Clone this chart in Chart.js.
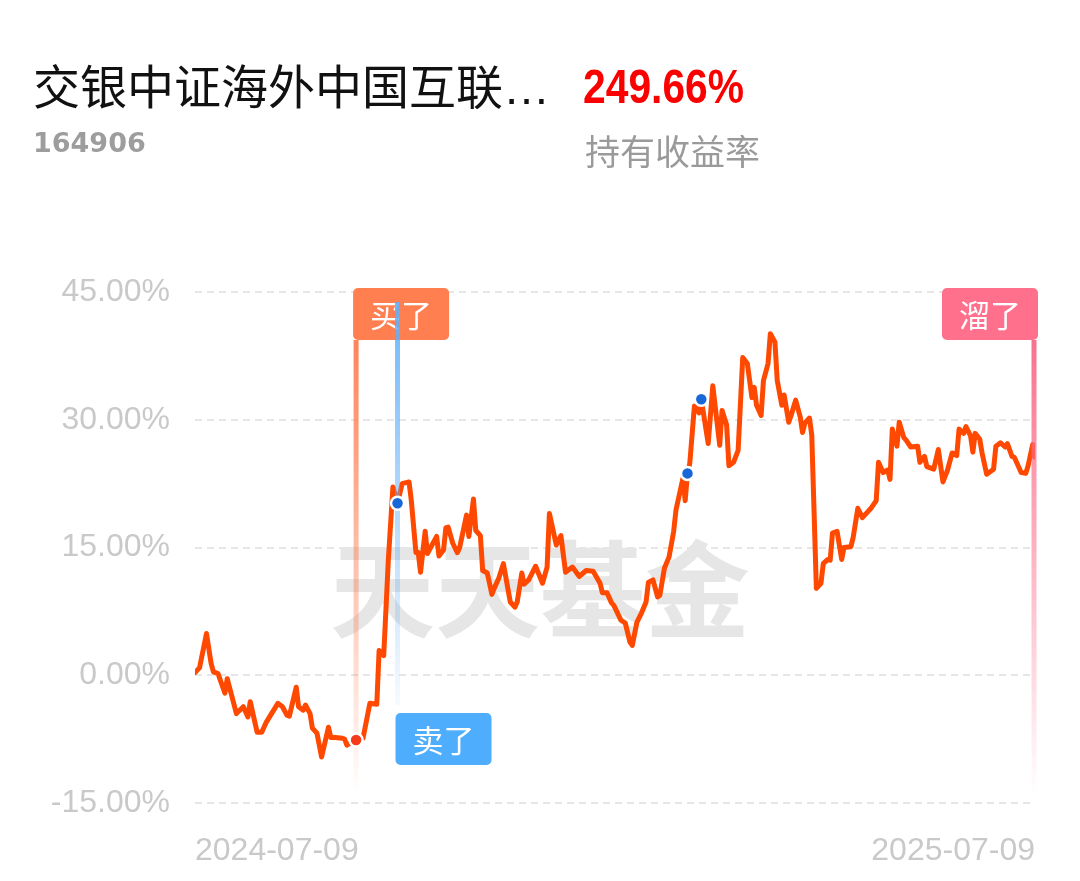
<!DOCTYPE html>
<html lang="zh-CN">
<head>
<meta charset="utf-8">
<title>164906 持有收益率</title>
<script src="https://cdn.jsdelivr.net/npm/chart.js@4.4.1/dist/chart.umd.min.js"></script>
<style>
  html, body { margin: 0; padding: 0; background: #fff; }
  #wrap { position: relative; width: 1080px; height: 881px; overflow: hidden; }
  #wrap canvas { position: absolute; left: 0; top: 0; }
  .txt { position: absolute; white-space: nowrap; line-height: 1; }
  #name { left: 33px; top: 49px; font: 47px "Noto Sans CJK SC", sans-serif; color: #111; }
  #name .dots { font-family: "Liberation Sans", Arial, sans-serif; }
  #code { left: 33px; top: 127px; font: bold 27px "DejaVu Sans", sans-serif; color: #9d9d9d; }
  #rate { left: 583px; top: 59px; font: bold 48px "Liberation Sans", sans-serif; color: #fa0000;
          transform: scaleX(0.85); transform-origin: 0 0; }
  #rateLabel { left: 585px; top: 124px; font: 35px "Noto Sans CJK SC", sans-serif; color: #9a9a9a; }
</style>
</head>
<body>
<div id="wrap">
  <canvas id="chart" width="1080" height="881"></canvas>
  <div class="txt" id="name">交银中证海外中国互联<span class="dots">…</span></div>
  <div class="txt" id="code">164906</div>
  <div class="txt" id="rate">249.66%</div>
  <div class="txt" id="rateLabel">持有收益率</div>
</div>
<script>
// days since 2024-07-09, and holding return in %
const days = [0, 2, 5, 7, 8, 10, 13, 14, 18, 21, 23, 24, 27, 29, 31, 36, 38, 40, 41, 44,
  45, 47, 48, 50, 51, 53, 55, 58, 59, 61, 64, 65, 66, 70, 73, 76, 79, 80, 82, 84,
  86, 88, 90, 93, 94, 96, 97, 98, 100, 101, 105, 106, 108, 109, 110, 112, 114, 115, 118, 119,
  121, 122, 124, 125, 127, 129, 130, 132, 134, 137, 139, 140, 142, 143, 145, 148, 151, 153, 154, 157,
  159, 161, 164, 167, 170, 173, 176, 177, 179, 181, 182, 185, 187, 189, 190, 192, 194, 196, 197, 199,
  201, 202, 204, 206, 208, 209, 212, 213, 214, 215, 217, 219, 220, 223, 225, 228, 229, 231, 232, 234,
  236, 238, 240, 242, 243, 244, 246, 247, 249, 250, 252, 253, 255, 256, 258, 259, 261, 263, 264, 265,
  267, 268, 270, 272, 273, 275, 276, 277, 279, 281, 282, 285, 286, 288, 290, 292, 294, 296, 297, 299,
  301, 302, 303, 305, 306, 308, 309, 311, 314, 315, 317, 318, 321, 323, 325, 327, 329, 331, 332, 334,
  335, 337, 338, 339, 341, 342, 344, 347, 348, 350, 352, 353, 355, 356, 359, 361, 362, 364, 365];

const returns = [0.3, 0.9, 4.9, 1.4, 0.4, 0.2, -2.1, -0.4, -4.5, -3.7, -4.9, -3.1, -6.7, -6.7, -5.5, -3.3, -3.7, -4.7, -4.8, -1.4,
  -3.7, -4.1, -3.5, -4.5, -6.2, -6.8, -9.6, -6.1, -7.3, -7.3, -7.4, -7.5, -8.2, -7.6, -7.4, -3.3, -3.4, 2.9, 2.3, 13.5,
  22.1, 20.2, 22.5, 22.7, 20.5, 14.4, 14.4, 12.1, 16.9, 14.3, 16.3, 14.0, 14.7, 17.3, 17.4, 15.5, 14.4, 15.0, 18.8, 16.3,
  20.7, 17.0, 16.4, 12.3, 12.0, 9.5, 10.2, 11.4, 13.1, 8.6, 8.0, 8.6, 12.0, 10.7, 11.2, 12.8, 10.8, 12.7, 19.0, 15.3,
  16.4, 12.1, 12.7, 11.6, 12.3, 12.2, 10.8, 9.7, 9.7, 8.5, 8.2, 6.5, 6.1, 3.9, 3.5, 6.2, 7.3, 8.6, 10.9, 11.2,
  9.2, 9.4, 12.6, 13.9, 16.9, 19.4, 23.1, 20.5, 23.7, 24.9, 31.6, 30.8, 32.4, 27.2, 34.0, 27.0, 31.1, 29.4, 24.6, 25.0,
  26.4, 37.3, 36.6, 32.6, 33.8, 31.7, 30.5, 34.6, 36.6, 40.1, 39.1, 34.6, 31.7, 32.9, 29.7, 30.5, 32.3, 30.3, 28.5, 29.6,
  30.2, 28.2, 10.2, 10.8, 13.1, 13.6, 13.5, 16.7, 16.9, 13.6, 15.0, 15.1, 16.2, 19.6, 18.5, 19.1, 19.7, 20.5, 25.0, 23.8,
  24.1, 23.0, 28.9, 26.9, 29.7, 27.9, 27.6, 26.8, 26.9, 25.0, 25.7, 24.5, 24.2, 26.5, 22.7, 24.1, 26.1, 25.8, 28.9, 28.4,
  29.2, 28.1, 26.2, 28.4, 27.7, 26.1, 23.6, 24.2, 26.9, 27.3, 26.8, 27.2, 25.7, 25.6, 23.8, 23.7, 24.6, 27.1, 25.6];

const dateLabels = ['2024-07-09', '2025-07-09'];
const yTicks = [-15, 0, 15, 30, 45];

// trade marks
const buyDay = 70;
const sellDay = 88;
const dotDays = [214, 220];
const exitDay = 365;
const watermark = '天天基金';

const valueAt = d => returns[days.indexOf(d)];

function vline(ctx, x, y0, y1, rgb, a0, a1, w) {
  const g = ctx.createLinearGradient(0, y0, 0, y1);
  g.addColorStop(0, `rgba(${rgb},${a0})`);
  g.addColorStop(1, `rgba(${rgb},${a1})`);
  ctx.strokeStyle = g;
  ctx.lineWidth = w;
  ctx.beginPath();
  ctx.moveTo(x, y0);
  ctx.lineTo(x, y1);
  ctx.stroke();
}

function tag(ctx, x, y, text, color) {
  ctx.fillStyle = color;
  ctx.beginPath();
  ctx.roundRect(x, y, 96, 52, 5);
  ctx.fill();
  ctx.fillStyle = '#fff';
  ctx.font = '31px "Noto Sans CJK SC"';
  ctx.textAlign = 'center';
  ctx.textBaseline = 'middle';
  ctx.fillText(text, x + 48, y + 27);
}

function dot(ctx, x, y, color) {
  ctx.beginPath();
  ctx.arc(x, y, 6.5, 0, Math.PI * 2);
  ctx.fillStyle = color;
  ctx.fill();
  ctx.lineWidth = 2.5;
  ctx.strokeStyle = '#fff';
  ctx.stroke();
}

const marks = {
  id: 'marks',
  beforeDatasetsDraw(chart) {
    const ctx = chart.ctx;
    const { top, bottom } = chart.chartArea;
    const xs = chart.scales.x;
    ctx.save();
    ctx.font = 'bold 105px "Noto Sans CJK SC"';
    ctx.fillStyle = '#e6e6e6';
    ctx.textAlign = 'center';
    ctx.textBaseline = 'middle';
    ctx.fillText(watermark, chart.width / 2, 589);
    // buy line sits under the curve
    vline(ctx, xs.getPixelForValue(buyDay), top + 48, bottom - 8, '255,125,80', 0.95, 0, 5);
    ctx.restore();
  },
  afterDatasetsDraw(chart) {
    const ctx = chart.ctx;
    const { top, bottom } = chart.chartArea;
    const xs = chart.scales.x, ys = chart.scales.y;
    const bx = xs.getPixelForValue(buyDay);
    const sx = xs.getPixelForValue(sellDay);
    const ex = xs.getPixelForValue(exitDay) - 1;
    ctx.save();
    // buy
    tag(ctx, bx - 3, top - 4, '买了', '#ff7f50');
    // sell
    vline(ctx, sx, top + 10, bottom - 98, '95,175,250', 0.9, 0.05, 5);
    tag(ctx, sx - 2, bottom - 90, '卖了', '#4eadfd');
    // exit
    tag(ctx, ex - 92, top - 4, '溜了', '#ff708c');
    vline(ctx, ex, top + 48, bottom - 8, '250,105,135', 0.95, 0, 5);
    // points
    dot(ctx, bx, ys.getPixelForValue(valueAt(buyDay)), '#f73a17');
    dot(ctx, sx, ys.getPixelForValue(valueAt(sellDay)), '#1767d8');
    dotDays.forEach(d => dot(ctx, xs.getPixelForValue(d), ys.getPixelForValue(valueAt(d)), '#1767d8'));
    ctx.restore();
  }
};

Chart.defaults.font.family = '"Liberation Sans", Arial, sans-serif';

const chart = document.querySelector('#chart').getContext('2d');

new Chart(chart, {
  type: 'line',
  data: {
    datasets: [{
      data: days.map((d, i) => ({ x: d, y: returns[i] })),
      borderColor: '#ff4800',
      borderWidth: 5,
      borderJoinStyle: 'round',
      borderCapStyle: 'round',
      pointRadius: 0,
      tension: 0
    }]
  },
  options: {
    responsive: false,
    animation: false,
    events: [],
    layout: { padding: { top: 292, right: 45, bottom: 10, left: 0 } },
    plugins: { legend: { display: false }, tooltip: { enabled: false } },
    scales: {
      x: {
        type: 'linear',
        min: days[0],
        max: days[days.length - 1],
        grid: { display: false },
        border: { display: false },
        afterBuildTicks: s => { s.ticks = [{ value: s.min }, { value: s.max }]; },
        afterFit: s => { s.height = 68; },
        ticks: {
          align: 'inner',
          padding: 21,
          color: '#c9c9c9',
          font: { size: 32 },
          maxRotation: 0,
          callback: (v, i) => dateLabels[i]
        }
      },
      y: {
        min: yTicks[0],
        max: yTicks[yTicks.length - 1],
        afterFit: s => { s.width = 195; },
        afterBuildTicks: s => { s.ticks = yTicks.map(v => ({ value: v })); },
        border: { display: false, dash: [7, 5] },
        grid: { color: '#e6e6e6', lineWidth: 2, drawTicks: false },
        ticks: {
          padding: 25,
          color: '#c9c9c9',
          font: { size: 32 },
          callback: v => v.toFixed(2) + '%'
        }
      }
    }
  },
  plugins: [marks]
});
</script>
</body>
</html>
